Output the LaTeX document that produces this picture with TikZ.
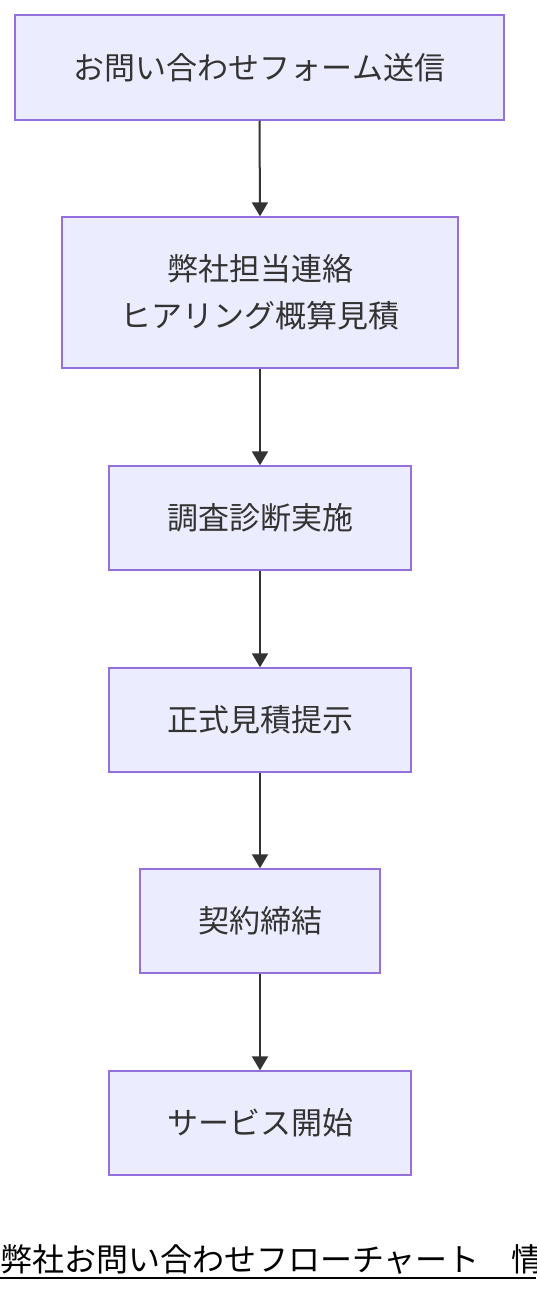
\documentclass[tikz,border=0pt]{standalone}
\usepackage{fontspec}
\setmainfont{Noto Sans CJK JP}
\usetikzlibrary{arrows.meta}
\definecolor{boxfill}{HTML}{ECECFF}
\definecolor{boxline}{HTML}{9370DB}
\definecolor{ink}{HTML}{333333}
\begin{document}
\begin{tikzpicture}[x=1pt,y=-1pt,
  flowbox/.style={draw=boxline,fill=boxfill,line width=1.4pt,rectangle,inner sep=0pt,
    text=ink,font=\fontsize{31}{47}\selectfont,align=center},
  flowarrow/.style={draw=ink,line width=2pt,-{Triangle[length=14pt,width=16pt]}}]
\useasboundingbox (0,0) rectangle (536,1292);
\fill[white] (0,0) rectangle (536,1292);
\node[flowbox,minimum width=489pt,minimum height=105pt] (a) at (259.5,67.5) {お問い合わせフォーム送信};
\node[flowbox,minimum width=396pt,minimum height=151pt] (b) at (260,292.5) {弊社担当連絡\\ヒアリング概算見積};
\node[flowbox,minimum width=302pt,minimum height=104pt] (c) at (260,518) {調査診断実施};
\node[flowbox,minimum width=302pt,minimum height=104pt] (d) at (260,720) {正式見積提示};
\node[flowbox,minimum width=240pt,minimum height=104pt] (e) at (260,921) {契約締結};
\node[flowbox,minimum width=302pt,minimum height=104pt] (f) at (260,1123) {サービス開始};
\draw[flowarrow] (a.south) -- (b.north);
\draw[flowarrow] (b.south) -- (c.north);
\draw[flowarrow] (c.south) -- (d.north);
\draw[flowarrow] (d.south) -- (e.north);
\draw[flowarrow] (e.south) -- (f.north);
\begin{scope}
\clip (0,0) rectangle (536,1292);
\node[anchor=base west,inner sep=0pt,font=\fontsize{32}{32}\selectfont,text=black] (title) at (0,1271) {弊社お問い合わせフローチャート　情};
\draw[black,line width=2pt] (title.base west |- 0,1277.5) coordinate (ul1) -- (536,1277.5) coordinate (ul2);
\end{scope}
\end{tikzpicture}
\end{document}
